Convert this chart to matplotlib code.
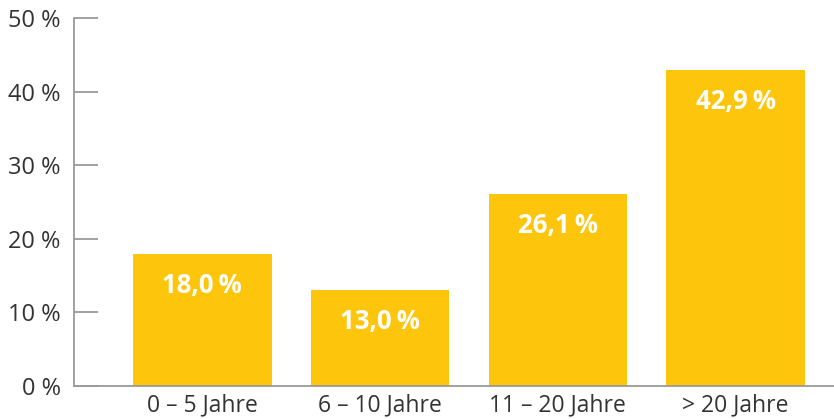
import matplotlib.pyplot as plt

categories = ['0 – 5 Jahre', '6 – 10 Jahre', '11 – 20 Jahre', '> 20 Jahre']
values = [18.0, 13.0, 26.1, 42.9]
value_labels = ['18,0\u2009%', '13,0\u2009%', '26,1\u2009%', '42,9\u2009%']
y_ticks = [0, 10, 20, 30, 40, 50]
y_tick_labels = ['0 %', '10 %', '20 %', '30 %', '40 %', '50 %']

plt.rcParams['font.family'] = ['Open Sans', 'DejaVu Sans']

bar_color = '#FDC50C'
axis_color = '#9a9a9a'
text_color = '#333333'

fig = plt.figure(figsize=(8.34, 4.19), dpi=100)
ax = fig.add_axes([74 / 834, 33 / 419, 1 - 74 / 834, 368 / 419])

x = list(range(len(categories)))
ax.bar(x, values, width=0.78, color=bar_color, zorder=2)

# value labels inside the bars, just below the top
for xi, v, lab in zip(x, values, value_labels):
    ax.text(xi, v - 4.3, lab, ha='center', va='center', color='white',
            fontsize=18.5, fontweight='bold')

ax.set_xlim(-0.722, 3.553)
ax.set_ylim(0, 50)
ax.set_xticks(x)
ax.set_xticklabels(categories, fontsize=16.5, color=text_color)
ax.set_yticks(y_ticks)
ax.set_yticklabels(y_tick_labels, fontsize=17, color=text_color)

ax.tick_params(axis='x', length=0, pad=5)
ax.tick_params(axis='y', direction='in', length=17, width=1.3, color=axis_color, pad=9.5)

for side in ['top', 'right']:
    ax.spines[side].set_visible(False)
for side in ['left', 'bottom']:
    ax.spines[side].set_color(axis_color)
    ax.spines[side].set_linewidth(1.3)

fig.savefig('out.png', dpi=100)
